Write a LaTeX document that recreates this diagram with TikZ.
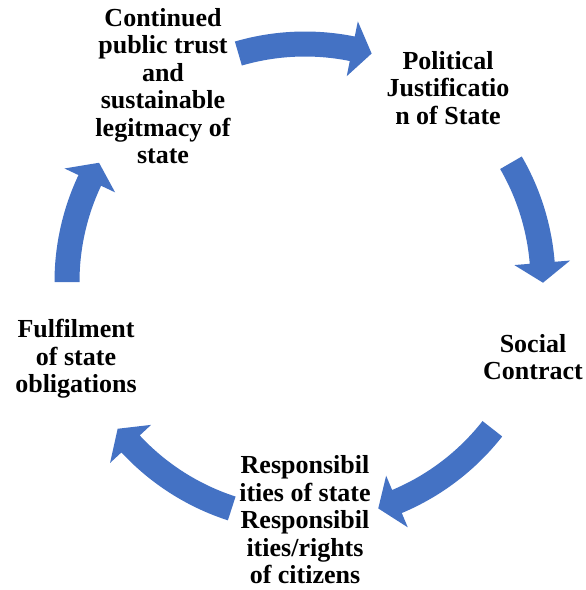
\documentclass[tikz,border=0pt]{standalone}
\usepackage{fontspec}
\setmainfont{Liberation Serif}
\definecolor{arrowblue}{RGB}{68,114,196}
\newcommand{\cyclearrow}[2]{%
  \fill[arrowblue] (#1:250.5pt) arc[start angle=#1, end angle={#2+4.8}, radius=250.5pt]
    -- ({#2+4.8}:266pt) -- (#2:238pt) -- ({#2+4.8}:210pt) -- ({#2+4.8}:225.5pt)
    arc[start angle={#2+4.8}, end angle=#1, radius=225.5pt] -- cycle;}
\begin{document}
\begin{tikzpicture}[x=1pt,y=1pt,
  lbl/.style={align=center, inner sep=0pt, font=\fontsize{26}{27.5}\selectfont\bfseries}]
\useasboundingbox (0,0) rectangle (586,-590);
\begin{scope}[shift={(305,-282)}]
  \cyclearrow{106.26}{73.74}
  \cyclearrow{30.07}{-0.17}
  \cyclearrow{-38.07}{-72.07}
  \cyclearrow{-107.93}{-141.93}
  \cyclearrow{180}{149.93}
\end{scope}
\node[lbl] (trust) at (163,-86) {Continued\\public trust\\and\\sustainable\\legitmacy of\\state};
\node[lbl] (polit) at (448,-88) {Political\\Justificatio\\n of State};
\node[lbl] (social) at (533,-357) {Social\\Contract};
\node[lbl] (resp) at (305,-520) {Responsibil\\ities of state\\Responsibil\\ities/rights\\of citizens};
\node[lbl] (fulfil) at (76,-359) {Fulfilment\\of state\\obligations};
\end{tikzpicture}
\end{document}
